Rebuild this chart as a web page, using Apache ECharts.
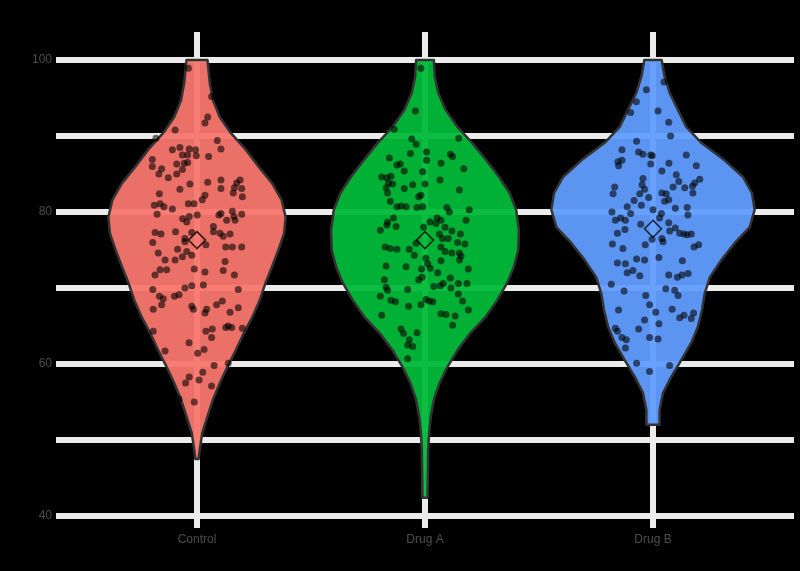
<!DOCTYPE html>
<html lang="en">
<head>
<meta charset="UTF-8">
<title>Violin plot</title>
<script src="https://cdn.jsdelivr.net/npm/echarts@6.0.0/dist/echarts.min.js"></script>
<style>
  * { margin: 0; padding: 0; box-sizing: border-box; }
  body { background: #000; }
  #chart { width: 800px; height: 571px; }
</style>
</head>
<body>
<div id="chart"></div>
<script>
const groups = ['Control', 'Drug A', 'Drug B'];
const groupMeans = [76.3, 76.3, 77.8];
const yTicks = [40, 60, 80, 100];

// violin outline, top to bottom: [value, half width in category units]
const violinControl = [
  [100, 0.046], [97.0, 0.056], [94.7, 0.070], [92.5, 0.100], [90.4, 0.148], [88.2, 0.214],
  [85.9, 0.272], [83.8, 0.329], [81.6, 0.371], [79.3, 0.389], [77.2, 0.382], [75.0, 0.357],
  [72.8, 0.329], [70.7, 0.301], [68.4, 0.275], [66.2, 0.243], [64.1, 0.206], [61.8, 0.170],
  [59.6, 0.133], [57.5, 0.100], [55.3, 0.070], [53.0, 0.045], [50.9, 0.023], [48.7, 0.012], [47.5, 0.007]
];
const violinDrugA = [
  [100, 0.039], [97.8, 0.043], [95.7, 0.058], [93.4, 0.091], [91.2, 0.142], [89.1, 0.207],
  [86.8, 0.269], [84.6, 0.325], [82.5, 0.371], [80.3, 0.400], [77.6, 0.412], [75.0, 0.409],
  [72.8, 0.390], [70.7, 0.361], [68.4, 0.317], [66.2, 0.266], [64.1, 0.200], [61.8, 0.142],
  [59.6, 0.098], [57.5, 0.064], [55.3, 0.039], [53.0, 0.025], [50.9, 0.018], [48.7, 0.014],
  [44.3, 0.012], [42.4, 0.011]
];
const violinDrugB = [
  [100, 0.038], [97.8, 0.051], [95.7, 0.073], [93.4, 0.110], [91.2, 0.146], [89.1, 0.212],
  [86.8, 0.314], [84.6, 0.395], [82.5, 0.434], [80.3, 0.446], [78.0, 0.424], [75.9, 0.358],
  [73.7, 0.300], [71.4, 0.249], [69.3, 0.227], [67.1, 0.215], [64.9, 0.197], [62.8, 0.168],
  [60.5, 0.124], [58.3, 0.080], [56.2, 0.044], [53.9, 0.029], [52.0, 0.029]
];

// jittered observations: [horizontal jitter in category units, value]
const pointsControl = [
  [-0.038,98.9],[0.064,95.2],[0.047,92.5],[0.035,91.7],[-0.096,90.8],[-0.18,89.7],[0.089,89.4],[0.105,88.3],
  [-0.108,88.2],[-0.075,88.5],[-0.034,88.3],[-0.006,88.2],[-0.064,87.5],[-0.041,87.5],[-0.003,87.4],[0.051,87.3],
  [-0.196,86.9],[-0.196,86.0],[-0.089,86.3],[-0.056,86.4],[-0.041,86.5],[-0.155,85.7],[-0.167,85.0],[-0.064,85.6],
  [-0.089,85.0],[-0.126,84.5],[-0.031,83.7],[0.047,83.9],[0.105,84.2],[0.189,84.2],[0.174,83.8],[0.105,83.1],
  [-0.075,83.0],[0.164,83.2],[0.196,83.1],[-0.165,82.4],[0.035,82.2],[0.159,82.5],[0.199,82.0],[0.023,81.6],
  [-0.187,80.9],[-0.162,81.1],[-0.145,80.7],[-0.108,80.4],[-0.038,81.1],[-0.013,81.1],[-0.175,79.7],[-0.063,79.1],
  [-0.034,79.4],[0.001,79.6],[-0.045,78.7],[0.096,79.6],[0.105,79.8],[0.155,80.1],[0.162,79.4],[0.167,78.9],
  [0.196,79.7],[0.13,78.9],[0.072,78.1],[0.072,77.4],[0.101,77.2],[0.115,76.8],[0.145,77.1],[-0.184,77.3],
  [-0.158,77.1],[-0.094,77.4],[-0.053,76.5],[-0.023,77.3],[-0.053,76.1],[-0.194,76.0],[0.039,75.7],[0.126,75.4],
  [0.155,75.4],[0.196,75.4],[-0.17,74.6],[-0.085,75.1],[-0.096,73.7],[-0.064,74.1],[-0.045,74.8],[-0.023,74.3],
  [-0.14,73.7],[0.123,73.5],[-0.162,72.4],[-0.133,72.4],[-0.184,71.7],[-0.012,72.5],[0.035,72.1],[0.115,72.3],
  [0.164,71.7],[-0.194,69.8],[-0.053,70.0],[-0.023,70.3],[0.028,70.4],[0.181,69.8],[-0.165,68.9],[-0.148,68.6],
  [-0.099,68.9],[-0.079,69.1],[-0.155,67.8],[-0.192,67.2],[-0.023,67.6],[-0.016,67.2],[0.035,66.7],[0.042,67.2],
  [0.086,67.8],[0.111,68.3],[0.145,66.8],[0.181,67.4],[-0.192,64.3],[0.039,64.3],[0.067,64.6],[0.064,63.5],
  [0.126,64.8],[0.137,65.0],[0.152,64.8],[0.199,64.7],[-0.035,62.8],[-0.14,61.7],[0.003,61.4],[0.031,61.9],
  [0.137,60.1],[0.075,59.8],[0.025,58.9],[-0.034,58.3],[0.009,57.9],[-0.05,57.5],[0.064,57.1],[-0.079,55.4],
  [-0.012,55.0]
];
const pointsDrugA = [
  [-0.018,98.9],[-0.042,93.3],[-0.135,90.9],[-0.058,89.6],[-0.039,88.9],[0.148,89.7],[-0.064,87.7],[0.007,87.9],
  [0.007,86.8],[0.111,87.6],[0.121,87.3],[-0.156,87.1],[-0.123,86.2],[-0.108,86.3],[-0.091,85.4],[-0.01,85.3],
  [0.07,86.4],[0.17,85.7],[-0.19,84.6],[-0.167,84.5],[-0.149,84.7],[-0.16,83.8],[-0.142,83.7],[-0.17,83.2],
  [-0.164,82.5],[-0.091,83.1],[-0.054,83.6],[0,83.7],[0.066,84.2],[0.151,82.9],[-0.028,82.0],[-0.018,82.2],
  [-0.152,81.4],[-0.123,80.7],[-0.105,80.8],[-0.083,80.7],[-0.035,80.6],[-0.01,80.7],[0.096,80.6],[0.107,80.0],
  [0.194,80.3],[-0.164,78.7],[-0.138,79.2],[-0.127,78.1],[-0.196,77.6],[-0.167,78.3],[-0.006,78.0],[0.022,78.7],
  [0.048,78.5],[0.053,79.2],[0.07,78.9],[0.088,78.0],[0.118,77.5],[0.18,78.9],[0.063,77.1],[0.077,76.5],
  [0.102,76.5],[0.155,77.1],[-0.175,75.4],[-0.152,75.2],[-0.123,75.1],[-0.069,75.1],[-0.039,75.9],[0.07,75.4],
  [0.088,74.8],[0.118,74.6],[0.143,76.0],[0.175,75.8],[0.151,74.6],[0.158,74.2],[-0.047,74.3],[0.004,73.9],
  [0.07,73.6],[0.151,73.7],[-0.171,72.9],[-0.083,72.8],[0.012,73.2],[0.023,72.6],[-0.015,72.5],[0.056,72.0],
  [0.19,72.5],[-0.178,71.1],[-0.171,70.1],[-0.164,69.7],[-0.076,69.8],[-0.028,71.1],[-0.013,71.4],[0.038,70.2],
  [0.067,70.3],[0.08,70.6],[0.111,71.3],[0.114,70.0],[0.146,70.6],[0.184,70.6],[-0.196,68.9],[-0.149,68.4],
  [-0.13,68.2],[-0.072,67.6],[-0.018,67.8],[0.004,68.5],[0.019,68.3],[0.034,68.2],[0.146,69.2],[0.165,68.3],
  [0.19,67.1],[-0.19,66.4],[0.07,66.6],[0.092,66.5],[0.132,66.3],[0.121,65.1],[-0.105,64.6],[-0.094,64.0],
  [-0.035,64.1],[-0.069,63.2],[-0.076,62.5],[-0.054,62.3],[-0.076,60.7]
];
const pointsDrugB = [
  [0.048,97.1],[-0.029,96.1],[-0.073,94.5],[-0.098,93.1],[0.022,93.3],[0.069,91.8],[0.077,90.0],[-0.072,89.3],
  [-0.136,88.2],[-0.063,87.9],[-0.044,87.6],[-0.01,87.5],[-0.003,87.4],[0.146,87.5],[-0.154,86.6],[-0.136,86.8],
  [-0.151,86.1],[-0.01,86.3],[0.07,86.4],[0.19,86.1],[0.039,85.4],[-0.044,84.4],[0.102,84.9],[0.205,84.3],
  [0.183,83.8],[-0.168,83.3],[-0.048,83.6],[-0.037,83.0],[0.113,84.0],[0.088,83.3],[0.139,83.2],[0.173,83.4],
  [-0.175,82.4],[-0.058,82.4],[-0.019,81.9],[0.039,82.5],[0.058,82.4],[0.069,81.6],[0.175,82.5],[-0.083,81.5],
  [-0.051,80.9],[-0.113,80.7],[0.051,81.4],[0.098,80.5],[0.15,80.6],[0,80.3],[-0.18,80.0],[-0.098,79.8],
  [0.153,79.6],[-0.165,78.9],[-0.142,79.2],[-0.121,78.9],[0.037,79.8],[0.029,79.2],[-0.054,78.4],[0.069,78.6],
  [0.098,77.9],[-0.123,77.7],[-0.156,77.2],[0.073,77.5],[0.117,77.2],[0.136,77.1],[0.15,77.0],[0.168,77.1],
  [-0.004,76.4],[0.039,76.5],[0.044,76.1],[-0.034,75.7],[-0.178,75.8],[-0.132,75.2],[0.18,75.4],[0.2,75.7],
  [0.026,74.0],[-0.156,73.3],[-0.121,73.2],[-0.072,73.8],[-0.037,73.7],[0.129,73.6],[-0.113,72.0],[-0.088,72.3],
  [-0.058,71.6],[0.069,71.7],[0.107,71.4],[0.127,71.7],[0.154,71.9],[-0.183,70.5],[-0.127,69.6],[0.056,69.9],
  [0.095,69.7],[0.11,69.0],[-0.032,69.0],[-0.015,67.8],[-0.151,67.1],[0.084,67.2],[0.012,66.8],[0.117,66.1],
  [0.136,66.4],[0.168,66.0],[0.178,66.7],[-0.037,65.8],[0.026,65.3],[-0.165,64.7],[-0.156,64.3],[-0.063,64.6],
  [-0.136,63.5],[-0.117,63.2],[-0.015,63.5],[0.022,63.3],[-0.121,62.1],[-0.072,60.1],[0.073,59.8],[-0.015,59.0]
];

const violins = [violinControl, violinDrugA, violinDrugB];
const points = [pointsControl, pointsDrugA, pointsDrugB];
const fills = ['rgba(248,118,109,0.95)', 'rgba(0,186,56,0.95)', 'rgba(97,156,255,0.95)'];
const gridColor = '#EBEBEB';

const chart = echarts.init(document.getElementById('chart'));

// one custom series per violin, outline built from the profile through the axes
function violinSeries(g) {
  return {
    type: 'custom',
    xAxisIndex: 2,
    yAxisIndex: 1,
    clip: false,
    silent: true,
    z: 2,
    data: [[g + 1, groupMeans[g]]],
    renderItem: function (params, api) {
      const c = g + 1;
      const prof = violins[g];
      const right = prof.map(d => api.coord([c + d[1], d[0]]));
      const left = prof.slice().reverse().map(d => api.coord([c - d[1], d[0]]));
      return {
        type: 'polygon',
        shape: { points: right.concat(left) },
        style: { fill: fills[g], stroke: '#333333', lineWidth: 2.5, lineJoin: 'round' }
      };
    }
  };
}

const series = [];
groups.forEach((name, g) => {
  series.push(violinSeries(g));
  series.push({
    type: 'scatter',
    xAxisIndex: 2,
    yAxisIndex: 1,
    silent: true,
    z: 3,
    symbolSize: 7,
    itemStyle: { color: 'rgba(0,0,0,0.72)' },
    data: points[g].map(p => [g + 1 + p[0], p[1]])
  });
});
series.push({
  type: 'scatter',
  xAxisIndex: 2,
  yAxisIndex: 1,
  silent: true,
  z: 4,
  symbol: 'diamond',
  symbolSize: 17,
  itemStyle: { color: 'rgba(0,0,0,0)', borderColor: '#000', borderWidth: 1.5 },
  data: groupMeans.map((m, i) => [i + 1, m])
});

chart.setOption({
  backgroundColor: '#000',
  animation: false,
  grid: [
    { left: 56, right: 6, top: 60, bottom: 55 },
    { left: 83, right: 33, top: 60, bottom: 55 }
  ],
  xAxis: [
    { gridIndex: 0, type: 'value', min: 0, max: 1, show: false },
    {
      gridIndex: 1,
      type: 'category',
      data: groups,
      offset: 12,
      axisLine: { show: false },
      axisTick: { show: true, inside: true, alignWithLabel: true, length: 496, lineStyle: { color: gridColor, width: 6 } },
      axisLabel: { color: '#4D4D4D', fontSize: 12, margin: 6, fontFamily: 'Liberation Sans' },
      splitLine: { show: false }
    },
    { gridIndex: 1, type: 'value', min: 0.5, max: 3.5, show: false }
  ],
  yAxis: [
    {
      gridIndex: 0,
      type: 'value',
      min: 40,
      max: 100,
      interval: 10,
      axisLine: { show: false },
      axisTick: { show: false },
      axisLabel: {
        color: '#4D4D4D', fontSize: 12, margin: 4, fontFamily: 'Liberation Sans',
        formatter: v => yTicks.includes(v) ? String(v) : ''
      },
      splitLine: { show: true, lineStyle: { color: gridColor, width: 6 } }
    },
    { gridIndex: 1, type: 'value', min: 40, max: 100, show: false }
  ],
  series: series
});
</script>
</body>
</html>
